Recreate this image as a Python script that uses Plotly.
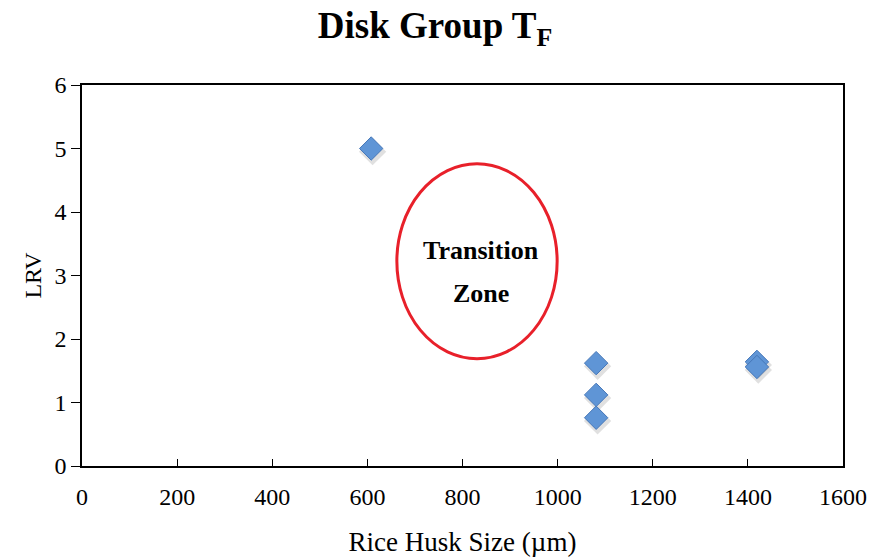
import plotly.graph_objects as go

# Data
size_um = [608, 1081, 1081, 1081, 1419, 1419]
lrv = [5.0, 1.62, 1.12, 0.76, 1.64, 1.56]
x_ticks = [0, 200, 400, 600, 800, 1000, 1200, 1400, 1600]
y_ticks = [0, 1, 2, 3, 4, 5, 6]
zone_x = [662, 999]
zone_y = [1.69, 4.76]

FONT = "Liberation Serif, Times New Roman, serif"

fig = go.Figure()
# soft shadow (slightly offset down-right)
fig.add_trace(go.Scatter(
    x=[v + 3 for v in size_um], y=[v - 0.05 for v in lrv], mode="markers",
    marker=dict(symbol="diamond", size=21, color="rgba(0,0,0,0.12)", line=dict(width=0)),
    hoverinfo="skip", showlegend=False,
))
fig.add_trace(go.Scatter(
    x=size_um, y=lrv, mode="markers",
    marker=dict(symbol="diamond", size=18, color="#5F95D6",
                line=dict(color="#4677B8", width=1)),
    showlegend=False,
))

fig.add_shape(type="circle", xref="x", yref="y",
              x0=zone_x[0], x1=zone_x[1], y0=zone_y[0], y1=zone_y[1],
              line=dict(color="#E8202A", width=3))
fig.add_annotation(x=839, y=3.40, text="<b>Transition</b>", showarrow=False,
                   font=dict(family=FONT, size=26, color="black"))
fig.add_annotation(x=839, y=2.72, text="<b>Zone</b>", showarrow=False,
                   font=dict(family=FONT, size=26, color="black"))

fig.update_layout(
    width=872, height=557,
    margin=dict(l=82, r=29, t=85, b=91),
    paper_bgcolor="white", plot_bgcolor="white",
    title=dict(text="<b>Disk Group T<sub>F</sub></b>", x=0.499, xref="container",
               xanchor="center", y=0.955, yanchor="middle",
               font=dict(family=FONT, size=37, color="black")),
    font=dict(family=FONT, color="black"),
)
fig.update_xaxes(range=[0, 1600], tickvals=x_ticks, ticks="inside", ticklen=7,
                 tickcolor="black", showline=True, linecolor="black", linewidth=1.5,
                 mirror=True, showgrid=False, zeroline=False, automargin=False,
                 tickfont=dict(family=FONT, size=24), ticklabelstandoff=8,
                 title=dict(text="Rice Husk Size (µm)", font=dict(family=FONT, size=27), standoff=24))
fig.update_yaxes(range=[0, 6], tickvals=y_ticks, ticks="outside", ticklen=9,
                 tickcolor="black", showline=True, linecolor="black", linewidth=1.5,
                 mirror=True, showgrid=False, zeroline=False, automargin=False,
                 ticksuffix="\u00a0\u00a0\u00a0",
                 tickfont=dict(family=FONT, size=24),
                 title=dict(text="LRV", font=dict(family=FONT, size=24), standoff=6))

fig.write_html("out.html")
